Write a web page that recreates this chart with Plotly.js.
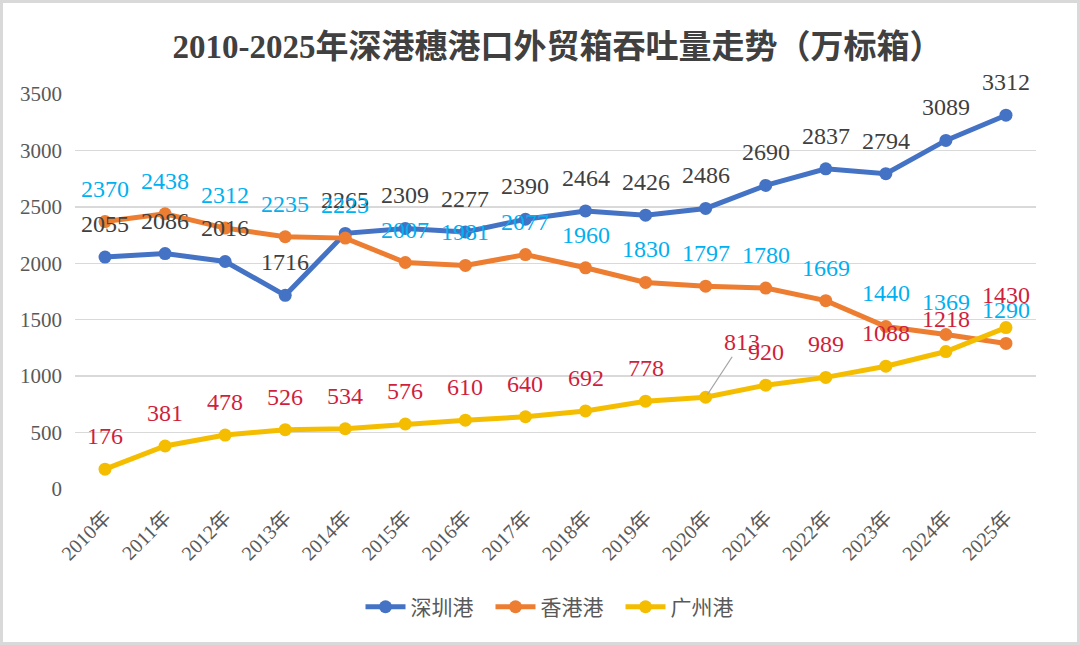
<!DOCTYPE html>
<html>
<head>
<meta charset="utf-8">
<script src="https://cdn.plot.ly/plotly-3.0.1.min.js"></script>
<style>
  html, body { margin: 0; padding: 0; background: #fff; }
  #wrap { position: relative; width: 1080px; height: 645px; }
  #chart { width: 1080px; height: 645px; }
  #frame { position: absolute; left: 0; top: 0; width: 1074px; height: 639px; border: 3px solid #d9d9d9; pointer-events: none; }
</style>
</head>
<body>
<div id="wrap"><div id="chart"></div><div id="frame"></div></div>
<script>
const years = ["2010年","2011年","2012年","2013年","2014年","2015年","2016年","2017年","2018年","2019年","2020年","2021年","2022年","2023年","2024年","2025年"];
const shenzhen = [2055, 2086, 2016, 1716, 2265, 2309, 2277, 2390, 2464, 2426, 2486, 2690, 2837, 2794, 3089, 3312];
const hongkong = [2370, 2438, 2312, 2235, 2223, 2007, 1981, 2077, 1960, 1830, 1797, 1780, 1669, 1440, 1369, 1290];
const guangzhou = [176, 381, 478, 526, 534, 576, 610, 640, 692, 778, 813, 920, 989, 1088, 1218, 1430];
const yTicks = [0, 500, 1000, 1500, 2000, 2500, 3000, 3500];

const FONT = "Liberation Serif, Times New Roman, Noto Sans CJK SC, serif";

const series = [
  {name: "深圳港", data: shenzhen, color: "#4472C4", label: "#404040"},
  {name: "香港港", data: hongkong, color: "#ED7D31", label: "#00B0F0"},
  {name: "广州港", data: guangzhou, color: "#F5BD00", label: "#D01F3C"}
];

const traces = series.map(s => ({
  type: "scatter",
  mode: "lines+markers",
  name: s.name,
  x: years,
  y: s.data,
  line: {color: s.color, width: 5},
  marker: {color: s.color, size: 13},
  cliponaxis: false
}));

const annotations = [];
series.forEach((s, si) => {
  s.data.forEach((v, i) => {
    const a = {
      x: years[i], y: v, xref: "x", yref: "y",
      text: String(v),
      font: {family: FONT, size: 24, color: s.label},
      showarrow: false,
      yshift: 33
    };
    if (si === 2 && i === 10) {
      a.showarrow = true;
      a.ax = 36; a.ay = -55;
      a.yshift = 0;
      a.arrowhead = 0;
      a.arrowwidth = 1.3;
      a.arrowcolor = "#a6a6a6";
      a.standoff = 3;
    }
    annotations.push(a);
  });
});

const layout = {
  width: 1080, height: 645,
  margin: {l: 75, r: 44, t: 94, b: 156},
  paper_bgcolor: "#ffffff",
  plot_bgcolor: "#ffffff",
  font: {family: FONT, color: "#595959"},
  title: {
    text: "<b>2010-2025年深港穗港口外贸箱吞吐量走势（万标箱）</b>",
    font: {family: FONT, size: 33, color: "#404040"},
    x: 0.502, xref: "paper", xanchor: "center",
    y: 0.928, yref: "container", yanchor: "middle"
  },
  xaxis: {
    type: "category",
    range: [-0.5, 15.5],
    tickangle: -45,
    tickfont: {family: FONT, size: 20, color: "#595959"},
    showgrid: false,
    zeroline: false,
    showline: false,
    ticks: "",
    ticklabelstandoff: 12,
    fixedrange: true
  },
  yaxis: {
    range: [0, 3500],
    tickvals: yTicks,
    ticktext: yTicks.map(String),
    tickfont: {family: FONT, size: 21, color: "#595959"},
    showgrid: true,
    gridcolor: "#d9d9d9",
    gridwidth: 1.5,
    zeroline: false,
    showline: false,
    ticks: "",
    ticklabelstandoff: 12,
    fixedrange: true
  },
  showlegend: true,
  legend: {
    orientation: "h",
    x: 0.5, xanchor: "center",
    y: -0.299, yanchor: "middle",
    font: {family: FONT, size: 21, color: "#595959"},
    itemwidth: 40,
    entrywidth: 75,
    entrywidthmode: "pixels",
    bgcolor: "rgba(0,0,0,0)"
  },
  annotations: annotations
};

Plotly.newPlot("chart", traces, layout, {displayModeBar: false, staticPlot: true});
</script>
</body>
</html>
